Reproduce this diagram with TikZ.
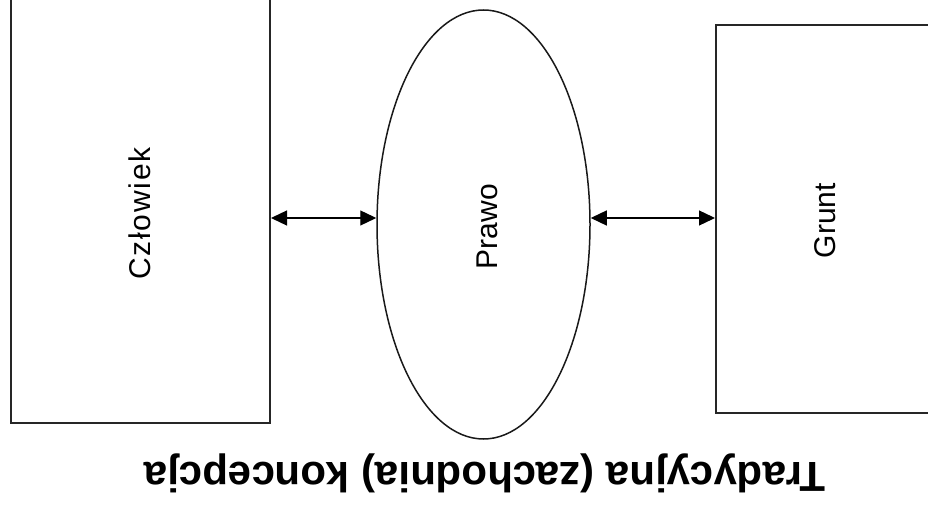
\documentclass[tikz,border=0pt]{standalone}
\usepackage{fontspec}
\setmainfont{Liberation Sans}
\usetikzlibrary{arrows.meta,shapes.geometric}
\begin{document}
\begin{tikzpicture}[x=1pt,y=1pt,
  box/.style={draw=black!85, line width=2pt, rectangle, inner sep=0pt},
  oval/.style={draw=black!90, line width=1.5pt, ellipse, inner sep=0pt,
    minimum width=213pt, minimum height=429pt},
  lbl/.style={rotate=90, anchor=base, inner sep=0pt,
    font=\fontsize{30}{36}\selectfont},
  dbl/.style={line width=1.3pt, {Triangle[length=16pt,width=15pt]}-{Triangle[length=16pt,width=15pt]}},
  title/.style={rotate=180, anchor=base, inner sep=0pt,
    font=\fontsize{42}{50}\selectfont\bfseries}]
  \useasboundingbox (0,0) rectangle (928,506);
  \clip (0,0) rectangle (928,506);
  % the three main elements
  \node[box, minimum width=259pt, minimum height=460pt] (human) at (140.5,313) {};
  \node[oval] (law) at (483.5,281.5) {};
  \node[box, minimum width=240pt, minimum height=388pt] (land) at (836,287) {};
  % labels
  \node[lbl] (humanlbl) at (150.7,292.5) {\addfontfeature{LetterSpace=6}Człowiek};
  \node[lbl] (lawlbl) at (497,279.5) {Prawo};
  \node[lbl] (landlbl) at (835,285.5) {Grunt};
  % two-way links
  \coordinate (ay) at (0,288);
  \draw[dbl] (human.east |- ay) -- (law.west |- ay);
  \draw[dbl] (law.east |- ay) -- (land.west |- ay);
  % caption
  \node[title] (cap) at (485,44) {Tradycyjna (zachodnia) koncepcja};
\end{tikzpicture}
\end{document}
